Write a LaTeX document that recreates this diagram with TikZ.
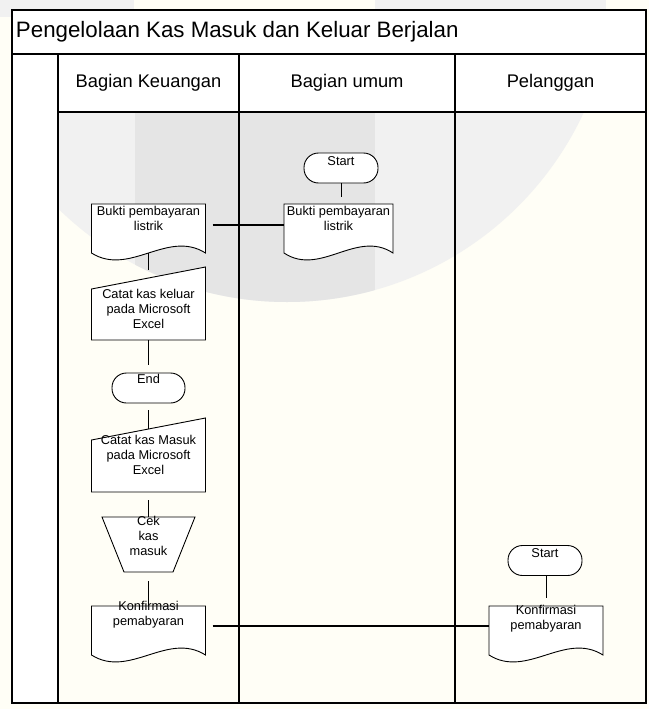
\documentclass[tikz,border=0pt]{standalone}
\usepackage{fontspec}
\setmainfont{Liberation Sans}
\usetikzlibrary{calc}
\definecolor{paper}{HTML}{FFFEF6}
\definecolor{wmlight}{HTML}{F1F1F1}
\definecolor{wmdark}{HTML}{E5E5E5}

% document symbol: straight top and sides, wavy bottom
\newcommand\docoutline[1]{%
  \draw[shapeline] (#1.south west) -- (#1.north west) -- (#1.north east) -- (#1.south east)
    .. controls ($(#1.south west)!2/3!(#1.south east)+(0,-24)$)
           and ($(#1.south west)!1/3!(#1.south east)+(0,24)$) .. (#1.south west) -- cycle;}
% manual input: top edge slopes up to the right
\newcommand\manualinput[1]{%
  \draw[shapeline] (#1.south west) -- ($(#1.north west)+(0,22)$) -- (#1.north east)
    -- (#1.south east) -- cycle;}
% manual operation: trapezoid, wide on top
\newcommand\manualop[1]{%
  \draw[shapeline] (#1.north west) -- (#1.north east) -- ($(#1.south east)+(-22,0)$)
    -- ($(#1.south west)+(22,0)$) -- cycle;}

\begin{document}
\begin{tikzpicture}[x=1pt,y=-1pt,
  every node/.style={inner sep=0pt, outer sep=0pt},
  frameline/.style={line width=2pt},
  shapeline/.style={draw=black, line width=0.9pt, fill=white},
  flowline/.style={line width=0.9pt},
  linkline/.style={line width=2pt},
  slot/.style 2 args={minimum width=#1, minimum height=#2},
  bodytext/.style={font=\fontsize{12.8}{15}\selectfont, align=center},
  titletext/.style={font=\fontsize{22.3}{26}\selectfont},
  headtext/.style={font=\fontsize{18.3}{22}\selectfont},
  term/.style={shapeline, rounded corners=14.5pt, minimum width=74pt, minimum height=30pt},
]
\useasboundingbox (0,0) rectangle (649,709);

% faint background mark
\fill[paper] (0,0) rectangle (649,709);
\fill[wmlight] (0,0) rectangle (134,17);
\fill[wmlight] (375,0) rectangle (606,17);
\begin{scope}
  \clip (58,112) rectangle (646,703);
  \fill[wmlight] (287,-25) circle[radius=327];
  \clip (287,-25) circle[radius=327];
  \fill[wmdark] (135,0) rectangle (375,709);
\end{scope}
\fill[white] (12,10) rectangle (646,112);
\fill[white] (12,112) rectangle (58,703);

% swimlane frame
\draw[frameline] (12,10) rectangle (646,703);
\draw[frameline] (12,54) -- (646,54);
\draw[frameline] (58,112) -- (646,112);
\draw[frameline] (58,54) -- (58,703);
\draw[frameline] (239,54) -- (239,703);
\draw[frameline] (455,54) -- (455,703);

\node[titletext, anchor=west] (title) at (16,32) {Pengelolaan Kas Masuk dan Keluar Berjalan};
\node[headtext] (hkeu) at (148.5,83) {Bagian Keuangan};
\node[headtext] (humum) at (347,83) {Bagian umum};
\node[headtext] (hpel) at (550.5,83) {Pelanggan};

% Bagian umum
\node[term] (ustart) at (341,168) {};
\node[bodytext] (ustarttxt) at (341,161) {Start};
\node[slot={109pt}{49pt}] (udoc) at (338.5,228.5) {};
\docoutline{udoc}
\node[bodytext] (udoctxt) at (338.5,218) {Bukti pembayaran\\listrik};

% Bagian Keuangan
\node[slot={114pt}{49pt}] (kdoc1) at (148.5,228.5) {};
\docoutline{kdoc1}
\node[bodytext] (kdoc1txt) at (148.5,218) {Bukti pembayaran\\listrik};

\node[slot={114pt}{73pt}] (kmi1) at (148.5,303.5) {};
\manualinput{kmi1}
\node[bodytext] (kmi1txt) at (148.5,308.5) {Catat kas keluar\\pada Microsoft\\Excel};

\node[term, minimum width=73pt] (kend) at (148.5,388) {};
\node[bodytext] (kendtxt) at (148.5,379) {End};

\node[slot={114pt}{74pt}] (kmi2) at (148.5,455) {};
\manualinput{kmi2}
\node[bodytext] (kmi2txt) at (148.5,455) {Catat kas Masuk\\pada Microsoft\\Excel};

\node[slot={93pt}{55pt}] (ktrap) at (148.5,544.5) {};
\manualop{ktrap}
\node[bodytext] (ktraptxt) at (148.5,536) {Cek\\kas\\masuk};

\node[slot={114pt}{49pt}] (kdoc2) at (148.5,630.5) {};
\docoutline{kdoc2}
\node[bodytext] (kdoc2txt) at (148.5,615) {Konfirmasi\\pemabyaran};

% Pelanggan
\node[term] (pstart) at (545,560.5) {};
\node[bodytext] (pstarttxt) at (545,553) {Start};
\node[slot={114pt}{49pt}] (pdoc) at (546,630.5) {};
\docoutline{pdoc}
\node[bodytext] (pdoctxt) at (546,619) {Konfirmasi\\pemabyaran};

% flow lines
\draw[flowline, shorten >=7pt] (ustart.south) -- (ustart.south |- udoc.north);
\draw[flowline, shorten >=8pt] (kdoc1.south) -- ($(kmi1.north west)!0.5!(kmi1.north east)+(0,11)$);
\draw[flowline, shorten >=8pt] (kmi1.south) -- (kend.north);
\draw[flowline, shorten <=7pt] (kend.south) -- ($(kmi2.north west)!0.5!(kmi2.north east)+(0,11)$);
\draw[flowline, shorten <=8pt] (kmi2.south) -- (ktrap.north);
\draw[flowline, shorten <=9pt] (ktrap.south) -- (kdoc2.north);
\draw[flowline, shorten >=8pt] (pdoc.north |- pstart.south) -- (pdoc.north);

% links between lanes
\draw[linkline] ([xshift=7pt,yshift=-21pt]kdoc1.north east) -- ([yshift=-21pt]udoc.north west);
\draw[linkline] ([xshift=7pt,yshift=-20pt]kdoc2.north east) -- ([yshift=-20pt]pdoc.north west);
\end{tikzpicture}
\end{document}
